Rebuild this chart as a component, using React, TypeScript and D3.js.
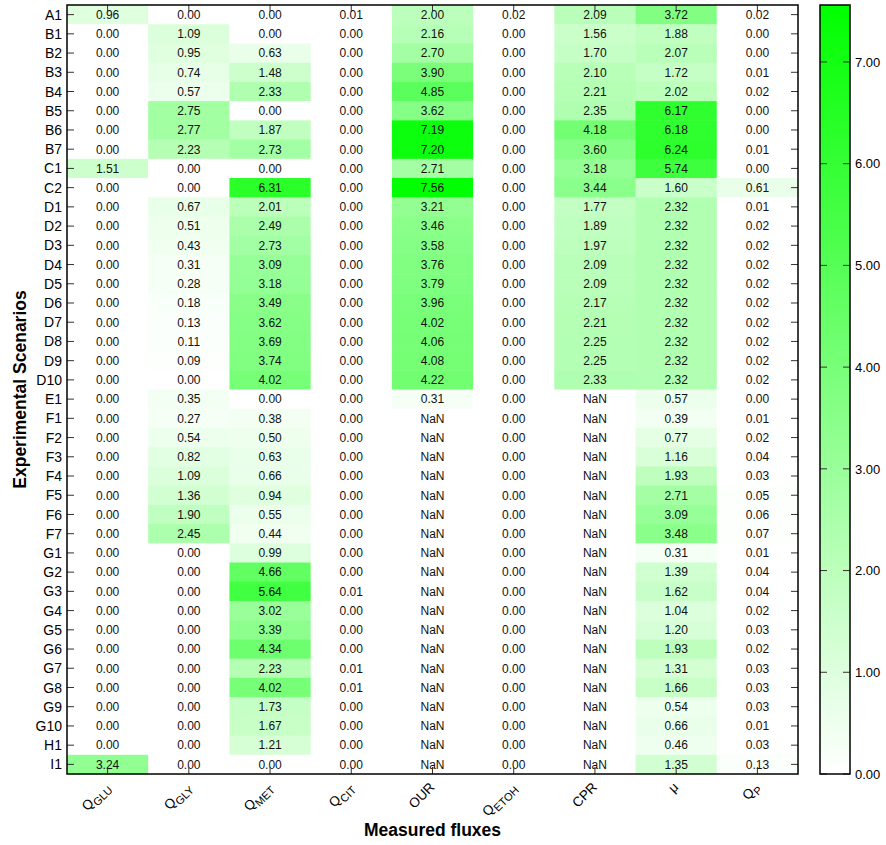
import React from 'react';
import * as d3 from 'd3';

// scenarios (rows, top to bottom)
const scenarios = [
  'A1', 'B1', 'B2', 'B3', 'B4', 'B5', 'B6', 'B7', 'C1', 'C2',
  'D1', 'D2', 'D3', 'D4', 'D5', 'D6', 'D7', 'D8', 'D9', 'D10',
  'E1', 'F1', 'F2', 'F3', 'F4', 'F5', 'F6', 'F7',
  'G1', 'G2', 'G3', 'G4', 'G5', 'G6', 'G7', 'G8', 'G9', 'G10', 'H1', 'I1',
];

// flux columns: main text + subscript
const fluxes = [
  { key: 'QGLU', main: 'Q', sub: 'GLU' },
  { key: 'QGLY', main: 'Q', sub: 'GLY' },
  { key: 'QMET', main: 'Q', sub: 'MET' },
  { key: 'QCIT', main: 'Q', sub: 'CIT' },
  { key: 'OUR', main: 'OUR', sub: '' },
  { key: 'QETOH', main: 'Q', sub: 'ETOH' },
  { key: 'CPR', main: 'CPR', sub: '' },
  { key: 'MU', main: 'μ', sub: '' },
  { key: 'QP', main: 'Q', sub: 'P' },
];

const N = null; // NaN cells

const qGlu = [0.96, 0, 0, 0, 0, 0, 0, 0, 1.51, 0,
  0, 0, 0, 0, 0, 0, 0, 0, 0, 0,
  0, 0, 0, 0, 0, 0, 0, 0,
  0, 0, 0, 0, 0, 0, 0, 0, 0, 0, 0, 3.24];
const qGly = [0, 1.09, 0.95, 0.74, 0.57, 2.75, 2.77, 2.23, 0, 0,
  0.67, 0.51, 0.43, 0.31, 0.28, 0.18, 0.13, 0.11, 0.09, 0,
  0.35, 0.27, 0.54, 0.82, 1.09, 1.36, 1.90, 2.45,
  0, 0, 0, 0, 0, 0, 0, 0, 0, 0, 0, 0];
const qMet = [0, 0, 0.63, 1.48, 2.33, 0, 1.87, 2.73, 0, 6.31,
  2.01, 2.49, 2.73, 3.09, 3.18, 3.49, 3.62, 3.69, 3.74, 4.02,
  0, 0.38, 0.50, 0.63, 0.66, 0.94, 0.55, 0.44,
  0.99, 4.66, 5.64, 3.02, 3.39, 4.34, 2.23, 4.02, 1.73, 1.67, 1.21, 0];
const qCit = [0.01, 0, 0, 0, 0, 0, 0, 0, 0, 0,
  0, 0, 0, 0, 0, 0, 0, 0, 0, 0,
  0, 0, 0, 0, 0, 0, 0, 0,
  0, 0, 0.01, 0, 0, 0, 0.01, 0.01, 0, 0, 0, 0];
const our = [2.00, 2.16, 2.70, 3.90, 4.85, 3.62, 7.19, 7.20, 2.71, 7.56,
  3.21, 3.46, 3.58, 3.76, 3.79, 3.96, 4.02, 4.06, 4.08, 4.22,
  0.31, N, N, N, N, N, N, N,
  N, N, N, N, N, N, N, N, N, N, N, N];
const qEtoh = [0.02, 0, 0, 0, 0, 0, 0, 0, 0, 0,
  0, 0, 0, 0, 0, 0, 0, 0, 0, 0,
  0, 0, 0, 0, 0, 0, 0, 0,
  0, 0, 0, 0, 0, 0, 0, 0, 0, 0, 0, 0];
const cpr = [2.09, 1.56, 1.70, 2.10, 2.21, 2.35, 4.18, 3.60, 3.18, 3.44,
  1.77, 1.89, 1.97, 2.09, 2.09, 2.17, 2.21, 2.25, 2.25, 2.33,
  N, N, N, N, N, N, N, N,
  N, N, N, N, N, N, N, N, N, N, N, N];
const mu = [3.72, 1.88, 2.07, 1.72, 2.02, 6.17, 6.18, 6.24, 5.74, 1.60,
  2.32, 2.32, 2.32, 2.32, 2.32, 2.32, 2.32, 2.32, 2.32, 2.32,
  0.57, 0.39, 0.77, 1.16, 1.93, 2.71, 3.09, 3.48,
  0.31, 1.39, 1.62, 1.04, 1.20, 1.93, 1.31, 1.66, 0.54, 0.66, 0.46, 1.35];
const qP = [0.02, 0, 0, 0.01, 0.02, 0, 0, 0.01, 0, 0.61,
  0.01, 0.02, 0.02, 0.02, 0.02, 0.02, 0.02, 0.02, 0.02, 0.02,
  0, 0.01, 0.02, 0.04, 0.03, 0.05, 0.06, 0.07,
  0.01, 0.04, 0.04, 0.02, 0.03, 0.02, 0.03, 0.03, 0.03, 0.01, 0.03, 0.13];

const columns = [qGlu, qGly, qMet, qCit, our, qEtoh, cpr, mu, qP];

const colorTicks = [0, 1, 2, 3, 4, 5, 6, 7];
const colorMax = 7.56;

const W = 886;
const H = 845;
const font = '"Liberation Sans", Arial, sans-serif';

export default function App() {
  const m = { left: 67, right: 798, top: 5, bottom: 774 };
  const bar = { left: 820, right: 850 };

  const x = d3.scaleBand<string>()
    .domain(fluxes.map(f => f.key))
    .range([m.left, m.right]);
  const y = d3.scaleBand<string>()
    .domain(scenarios)
    .range([m.top, m.bottom]);
  const color = d3.scaleLinear<string>()
    .domain([0, colorMax])
    .range(['#ffffff', '#00ff00'])
    .interpolate(d3.interpolateRgb);
  const barY = d3.scaleLinear().domain([0, colorMax]).range([m.bottom, m.top]);

  const cells: { fx: string; sc: string; v: number | null }[] = [];
  fluxes.forEach((f, j) => {
    scenarios.forEach((s, i) => {
      cells.push({ fx: f.key, sc: s, v: columns[j][i] });
    });
  });

  const tickLen = 7;
  const tickColor = '#333';
  const gradStops = d3.range(0, 1.0001, 0.1);

  return (
    <svg width={W} height={H} style={{ position: 'absolute', left: 0, top: 0, fontFamily: font }}>
      <defs>
        <linearGradient id="cbar" x1="0" y1="1" x2="0" y2="0">
          {gradStops.map(t => (
            <stop key={t} offset={t} stopColor={color(t * colorMax)} />
          ))}
        </linearGradient>
      </defs>

      {/* cells */}
      {cells.map(c => (
        <rect key={c.fx + c.sc}
          x={x(c.fx)} y={y(c.sc)}
          width={x.bandwidth() + 0.5} height={y.bandwidth() + 0.5}
          fill={c.v == null ? '#ffffff' : color(c.v)} />
      ))}

      {/* cell values */}
      {cells.map(c => (
        <text key={'t' + c.fx + c.sc}
          x={x(c.fx)! + x.bandwidth() / 2}
          y={y(c.sc)! + y.bandwidth() / 2}
          dy="0.36em" textAnchor="middle" fontSize={12} fill="#111">
          {c.v == null ? 'NaN' : c.v.toFixed(2)}
        </text>
      ))}

      {/* ticks */}
      {scenarios.map(s => {
        const yy = y(s)! + y.bandwidth() / 2;
        return (
          <g key={'yt' + s} stroke={tickColor} strokeWidth={1}>
            <line x1={m.left} x2={m.left + tickLen} y1={yy} y2={yy} />
            <line x1={m.right - tickLen} x2={m.right} y1={yy} y2={yy} />
          </g>
        );
      })}
      {fluxes.map(f => {
        const xx = x(f.key)! + x.bandwidth() / 2;
        return (
          <g key={'xt' + f.key} stroke={tickColor} strokeWidth={1}>
            <line x1={xx} x2={xx} y1={m.top} y2={m.top + tickLen} />
            <line x1={xx} x2={xx} y1={m.bottom - tickLen} y2={m.bottom} />
          </g>
        );
      })}

      {/* frame */}
      <rect x={m.left} y={m.top} width={m.right - m.left} height={m.bottom - m.top}
        fill="none" stroke="#000" strokeWidth={1.5} />

      {/* row labels */}
      {scenarios.map(s => (
        <text key={'yl' + s} x={m.left - 5} y={y(s)! + y.bandwidth() / 2}
          dy="0.36em" textAnchor="end" fontSize={14} fill="#000">{s}</text>
      ))}

      {/* column labels */}
      {fluxes.map(f => {
        const xx = x(f.key)! + x.bandwidth() / 2 + 3;
        return (
          <text key={'xl' + f.key} textAnchor="end" fontSize={13.5} fill="#000"
            transform={`translate(${xx},${m.bottom + 14}) rotate(-45)`}>
            {f.main}
            {f.sub && <tspan fontSize={11} dy={4}>{f.sub}</tspan>}
          </text>
        );
      })}

      {/* axis titles */}
      <text x={(m.left + m.right) / 2} y={836} textAnchor="middle" fontSize={17.5}
        fontWeight="bold">Measured fluxes</text>
      <text transform={`translate(26,${(m.top + m.bottom) / 2}) rotate(-90)`}
        textAnchor="middle" fontSize={17.5} fontWeight="bold">Experimental Scenarios</text>

      {/* colour bar */}
      <rect x={bar.left} y={m.top} width={bar.right - bar.left} height={m.bottom - m.top}
        fill="url(#cbar)" />
      {colorTicks.map(t => (
        <g key={'ct' + t}>
          <line x1={bar.left} x2={bar.left + 7} y1={barY(t)} y2={barY(t)} stroke={tickColor} />
          <line x1={bar.right - 7} x2={bar.right} y1={barY(t)} y2={barY(t)} stroke={tickColor} />
          <text x={bar.right + 5} y={barY(t)} dy="0.36em" fontSize={13} fill="#000">
            {t.toFixed(2)}
          </text>
        </g>
      ))}
      <rect x={bar.left} y={m.top} width={bar.right - bar.left} height={m.bottom - m.top}
        fill="none" stroke="#000" strokeWidth={1.5} />
    </svg>
  );
}
